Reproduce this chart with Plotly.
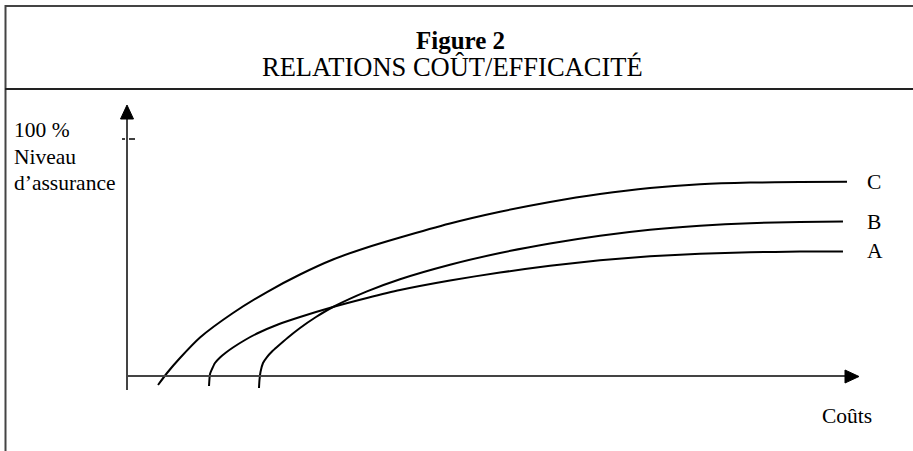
import plotly.graph_objects as go

# ---- data (cost units 0-100, assurance level in %) ----
cost_A = [11.39, 11.53, 11.81, 12.22, 12.92, 13.75, 14.72, 16.39, 18.06, 20.97, 24.03, 28.61,
          33.33, 37.92, 44.86, 51.81, 58.75, 65.69, 72.64, 79.58, 86.53, 93.47, 99.44]
level_A = [-4.20, 0.84, 2.94, 5.46, 7.77, 9.87, 11.97, 15.13, 17.86, 21.64, 24.79, 28.99,
           32.77, 36.13, 40.13, 43.49, 46.30, 48.61, 50.29, 51.34, 51.97, 52.27, 52.35]
cost_B = [18.33, 18.40, 18.54, 18.89, 19.44, 20.14, 20.83, 22.36, 24.03, 26.25, 28.61, 33.33,
          37.92, 44.86, 51.81, 58.75, 65.69, 72.64, 79.58, 86.53, 93.47, 99.44]
level_B = [-5.04, -1.68, 1.68, 5.46, 7.98, 10.29, 12.18, 16.18, 20.17, 24.79, 28.99, 35.55,
           40.67, 46.76, 51.68, 55.67, 58.95, 61.47, 63.15, 64.20, 64.71, 64.87]
cost_C = [4.31, 5.56, 7.36, 10.14, 14.72, 19.44, 24.03, 28.61, 33.33, 37.92, 44.86, 51.81,
          58.75, 65.69, 72.64, 79.58, 86.53, 93.47, 100.0]
level_C = [-3.78, 1.26, 7.56, 16.18, 26.47, 35.29, 42.65, 48.95, 53.99, 58.19, 64.08, 69.01,
           73.11, 76.47, 78.99, 80.55, 81.26, 81.51, 81.60]
curve_names = ["A", "B", "C"]
label_cost = 102.5
y_label_lines = ["100 %", "Niveau", "d\u2019assurance"]
x_label = "Coûts"
title_main = "Figure 2"
title_sub = "RELATIONS COÛT/EFFICACITÉ"

W, H = 913, 451
FONT = "Liberation Serif, Times New Roman, serif"
# pixel mapping of axis units
KX, X0PX = 7.2, 127.0
KY, Y0PX = 2.38, 376.0
x_range = [-X0PX / KX, (W - X0PX) / KX]
y_range = [-(H - Y0PX) / KY, Y0PX / KY]


def PX(x):
    return x / W


def PY(y):
    return 1 - y / H


fig = go.Figure()
for name, xs, ys in zip(curve_names, [cost_A, cost_B, cost_C], [level_A, level_B, level_C]):
    fig.add_trace(go.Scatter(x=xs, y=ys, mode="lines", name=name,
                             line=dict(color="black", width=2, shape="spline", smoothing=0.6),
                             showlegend=False, hoverinfo="skip"))

shapes = []
frame_col = "#444444"
# frame
shapes.append(dict(type="line", xref="paper", yref="paper", x0=PX(5.5), x1=PX(5.5), y0=PY(5), y1=PY(452),
                   line=dict(color=frame_col, width=2)))
shapes.append(dict(type="line", xref="paper", yref="paper", x0=PX(5), x1=1.01, y0=PY(6), y1=PY(6),
                   line=dict(color=frame_col, width=2)))
shapes.append(dict(type="line", xref="paper", yref="paper", x0=PX(5), x1=1.01, y0=PY(89), y1=PY(89),
                   line=dict(color="#222222", width=2)))
# axes
ax_col = "#444444"
shapes.append(dict(type="line", xref="x", yref="y", x0=0, x1=0, y0=-(390 - Y0PX) / KY, y1=(Y0PX - 118) / KY,
                   line=dict(color=ax_col, width=2)))
shapes.append(dict(type="line", xref="x", yref="y", x0=0, x1=(846 - X0PX) / KX, y0=0, y1=0,
                   line=dict(color=ax_col, width=2)))
# arrow heads (paper coords)
shapes.append(dict(type="path", xref="paper", yref="paper",
                   path=f"M {PX(127)} {PY(105)} L {PX(120.5)} {PY(119)} L {PX(133.5)} {PY(119)} Z",
                   fillcolor="black", line=dict(color="black", width=1)))
shapes.append(dict(type="path", xref="paper", yref="paper",
                   path=f"M {PX(859)} {PY(376.5)} L {PX(845)} {PY(370)} L {PX(845)} {PY(383)} Z",
                   fillcolor="black", line=dict(color="black", width=1)))
# 100% tick
shapes.append(dict(type="line", xref="paper", yref="paper", x0=PX(122), x1=PX(125), y0=PY(139), y1=PY(139),
                   line=dict(color="black", width=1.5)))
shapes.append(dict(type="line", xref="paper", yref="paper", x0=PX(129), x1=PX(135), y0=PY(139), y1=PY(139),
                   line=dict(color="black", width=1.5)))

ann = []
ann.append(dict(text=f"<b>{title_main}</b>", x=PX(460), y=PY(40), xref="paper", yref="paper",
                showarrow=False, font=dict(family=FONT, size=25, color="black"), xanchor="center", yanchor="middle"))
ann.append(dict(text=title_sub, x=PX(452), y=PY(67), xref="paper", yref="paper",
                showarrow=False, font=dict(family=FONT, size=26.5, color="black"), xanchor="center", yanchor="middle"))
for i, t in enumerate(y_label_lines):
    ann.append(dict(text=t, x=PX(12), y=PY(130 + 26.7 * i), xref="paper", yref="paper",
                    showarrow=False, font=dict(family=FONT, size=21.5, color="black"), xanchor="left", yanchor="middle"))
ann.append(dict(text=x_label, x=PX(820), y=PY(416), xref="paper", yref="paper",
                showarrow=False, font=dict(family=FONT, size=21.5, color="black"), xanchor="left", yanchor="middle"))
for name, ys in zip(curve_names, [level_A, level_B, level_C]):
    ann.append(dict(text=name, x=label_cost, y=ys[-1], xref="x", yref="y",
                    showarrow=False, font=dict(family=FONT, size=21.5, color="black"), xanchor="left", yanchor="middle"))

fig.update_layout(
    width=W, height=H,
    margin=dict(l=0, r=0, t=0, b=0),
    paper_bgcolor="white", plot_bgcolor="white",
    xaxis=dict(range=x_range, visible=False, fixedrange=True),
    yaxis=dict(range=y_range, visible=False, fixedrange=True),
    shapes=shapes, annotations=ann,
)
fig.write_html("out.html", config={"displayModeBar": False},
               post_script="document.body.style.margin='0';document.body.style.overflow='hidden';")
